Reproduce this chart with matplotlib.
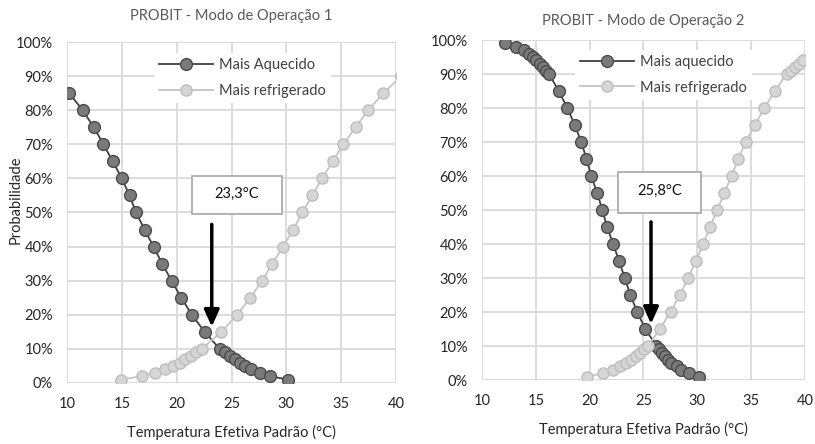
import matplotlib
matplotlib.use("Agg")
import matplotlib.pyplot as plt
from matplotlib.ticker import FuncFormatter
from matplotlib.patches import Rectangle

plt.rcParams['font.family'] = ['Lato', 'DejaVu Sans']

# ---------------- data ----------------
# Mode 1
m1_aq_x = [10.2, 11.43, 12.44, 13.32, 14.17, 15.0, 15.7, 16.3, 17.07, 17.89, 18.68, 19.53, 20.42, 21.39, 22.55,
           23.92, 24.38, 24.83, 25.29, 25.75, 26.2, 26.82, 27.57, 28.49, 30.16]
m1_aq_y = [85, 80, 75, 70, 65, 60, 55, 50, 45, 40, 35, 30, 25, 20, 15,
           10, 9, 8, 7, 6, 5, 4, 3, 2, 1]
m1_rf_x = [14.93, 16.85, 17.98, 18.95, 19.66, 20.27, 20.8, 21.33, 21.79, 22.3,
           24.07, 25.5, 26.72, 27.79, 28.73, 29.7, 30.62, 31.47, 32.36, 33.27, 34.22, 35.19, 36.32, 37.47, 38.85, 40.5]
m1_rf_y = [1, 2, 3, 4, 5, 6, 7, 8, 9, 10,
           15, 20, 25, 30, 35, 40, 45, 50, 55, 60, 65, 70, 75, 80, 85, 90]
# Mode 2
m2_aq_x = [12.1, 13.19, 13.9, 14.34, 14.74, 15.05, 15.36, 15.67, 15.98, 16.23,
           17.13, 17.93, 18.61, 19.23, 19.7, 20.16, 20.69, 21.19, 21.62, 22.18, 22.74, 23.26, 23.79, 24.41, 25.18,
           26.2, 26.45, 26.73, 26.98, 27.3, 27.6, 28.07, 28.5, 29.2, 30.14]
m2_aq_y = [99, 98, 97, 96, 95, 94, 93, 92, 91, 90,
           85, 80, 75, 70, 65, 60, 55, 50, 45, 40, 35, 30, 25, 20, 15,
           10, 9, 8, 7, 6, 5, 4, 3, 2, 1]
m2_rf_x = [19.79, 21.25, 22.18, 22.8, 23.33, 23.82, 24.29, 24.66, 25.06, 25.43,
           26.52, 27.51, 28.38, 29.15, 29.86, 30.55, 31.17, 31.85, 32.5, 33.18, 33.8, 34.48, 35.35, 36.22, 37.21,
           38.29, 38.7, 39.07, 39.47, 39.84]
m2_rf_y = [1, 2, 3, 4, 5, 6, 7, 8, 9, 10,
           15, 20, 25, 30, 35, 40, 45, 50, 55, 60, 65, 70, 75, 80, 85,
           90, 91, 92, 93, 94]

titles = ["PROBIT - Modo de Operação 1", "PROBIT - Modo de Operação 2"]
legend_labels = [["Mais Aquecido", "Mais refrigerado"], ["Mais aquecido", "Mais refrigerado"]]
annot_text = ["23,3°C", "25,8°C"]
annot_x = [23.3, 25.8]
xticks = [10, 15, 20, 25, 30, 35, 40]
yticks = [0, 10, 20, 30, 40, 50, 60, 70, 80, 90, 100]
xlabel = "Temperatura Efetiva Padrão (°C)"
ylabel = "Probabilidade"

# ---------------- figure ----------------
fig = plt.figure(figsize=(8.15, 4.44), dpi=100)
ax1 = fig.add_axes([0.0822, 0.1374, 0.4037, 0.768])
ax2 = fig.add_axes([0.5914, 0.1441, 0.3963, 0.7658])

grid_c = "#d9d9d9"
txt_c = "#262626"

series = [
    (m1_aq_x, m1_aq_y, m1_rf_x, m1_rf_y),
    (m2_aq_x, m2_aq_y, m2_rf_x, m2_rf_y),
]
legend_centers = [(0.533, 0.895), (0.562, 0.898)]
boxes = [(0.380, 0.496, 0.273, 0.111), (0.421, 0.491, 0.257, 0.121)]
title_pads = [16, 11]

for i, ax in enumerate([ax1, ax2]):
    ax_x, ax_y, rf_x, rf_y = series[i]
    ax.set_xlim(10, 40)
    ax.set_ylim(0, 100)
    ax.set_xticks(xticks)
    ax.set_yticks(yticks)
    ax.yaxis.set_major_formatter(FuncFormatter(lambda v, p: f"{v:.0f}%"))
    ax.grid(True, color=grid_c, linewidth=1.3, zorder=0)
    ax.set_axisbelow(True)
    for s in ax.spines.values():
        s.set_visible(False)
    ax.tick_params(length=0, labelsize=10.5, colors=txt_c, pad=10)
    ax.tick_params(axis='x', pad=10)

    l1, = ax.plot(ax_x, ax_y, '-o', color="#404040", lw=1.3, ms=8.5,
                  mfc="#7a7a7a", mec="#4a4a4a", mew=1.0, zorder=3, label=legend_labels[i][0])
    l2, = ax.plot(rf_x, rf_y, '-o', color="#c4c4c4", lw=1.3, ms=8.0,
                  mfc="#d6d6d6", mec="#bdbdbd", mew=1.0, zorder=4, label=legend_labels[i][1])

    leg = ax.legend(handles=[l1, l2], loc='center', bbox_to_anchor=legend_centers[i],
                    frameon=True, fancybox=False, framealpha=1, edgecolor='none',
                    facecolor='white', fontsize=10.5, handlelength=3.7, handletextpad=0.45,
                    labelspacing=0.8, borderpad=0.35, labelcolor="#404040")
    leg.set_zorder(5)

    ax.set_title(titles[i], fontsize=10.5, color="#595959", pad=title_pads[i])
    ax.set_xlabel(xlabel, fontsize=10.5, color=txt_c, labelpad=10)

    # annotation box
    bx, by, bw, bh = boxes[i]
    ax.add_patch(Rectangle((bx, by), bw, bh, transform=ax.transAxes, fc='white',
                           ec='#a6a6a6', lw=1.2, zorder=6))
    ax.text(bx + bw / 2, by + bh / 2 + 0.004, annot_text[i], transform=ax.transAxes,
            ha='center', va='center', fontsize=10.5, color="#111111", zorder=7)
    ax.annotate("", xy=(annot_x[i] - 0.1, 16.5), xytext=(annot_x[i] - 0.1, 46.5),
                arrowprops=dict(arrowstyle='-|>,head_length=1.0,head_width=0.45',
                                color='black', lw=2.5, shrinkA=0, shrinkB=0), zorder=8)

fig.text(16 / 815, 1 - 200 / 444, ylabel, rotation=90, ha='center', va='center',
         fontsize=10.5, color=txt_c)

fig.savefig("out.png", dpi=100, facecolor='white')
